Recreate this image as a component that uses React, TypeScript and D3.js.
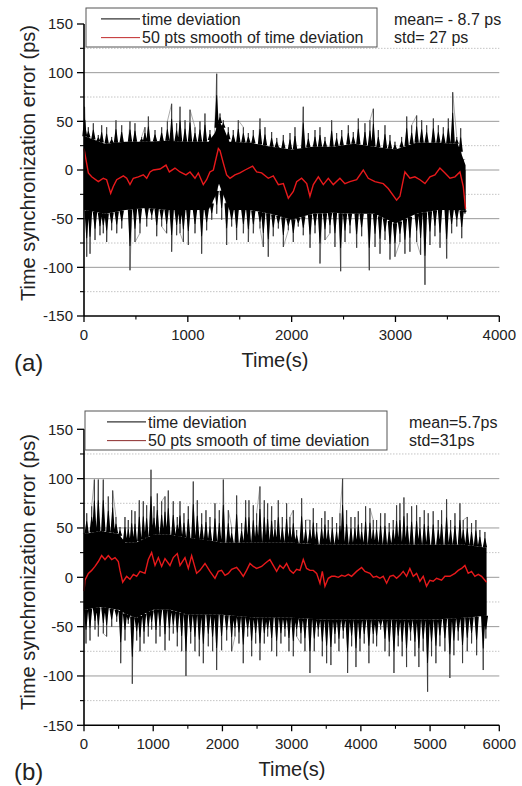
import React from "react";
import * as d3 from "d3";

const FONT = "'Liberation Sans', Arial, Helvetica, sans-serif";

// ---------- Panel (a) data ----------
const A_SMOOTH_T = [0, 42, 74, 138, 186, 218, 257, 282, 315, 379, 411, 443, 475, 523, 571, 604, 636, 668, 732, 790, 822, 876, 925, 982, 1021, 1069, 1101, 1149, 1181, 1213, 1246, 1294, 1310, 1342, 1374, 1406, 1454, 1502, 1551, 1624, 1663, 1711, 1775, 1823, 1872, 1920, 1968, 2016, 2048, 2096, 2145, 2176, 2209, 2257, 2305, 2353, 2401, 2465, 2513, 2561, 2626, 2690, 2738, 2802, 2882, 2930, 3011, 3043, 3091, 3139, 3187, 3236, 3284, 3332, 3380, 3428, 3477, 3525, 3573, 3621, 3653, 3675];
const A_SMOOTH_V = [22, -3, -7, -12, -8.5, -10, -24, -17, -10, -6, -8.5, -15, -8.5, -7, -5, -8.5, -2, 0, 1, 5, -2, 2, -2, -5, -2, -8.5, -3, -15, -10, -2, 0, 22, 20, 7, -5, -8.5, -5, -3, 0, 4, -2, -3, -8.5, -6, -15, -14, -29, -22, -12, -8.5, -14, -27, -15, -7, -15, -8.5, -15, -8.5, -14, -12, -10, 0, -8.5, -12, -14, -19, -31, -27, -2, -8.5, -7, -10, -14, -7, -5, 2, -3, -8.5, -7, -2, -17, -40];

const A_UP_T = [5, 10, 42, 90, 138, 170, 218, 266, 308, 363, 443, 491, 555, 587, 620, 684, 748, 803, 844, 892, 925, 973, 1021, 1069, 1117, 1165, 1213, 1278, 1310, 1342, 1390, 1438, 1486, 1535, 1583, 1631, 1695, 1743, 1807, 1856, 1872, 1920, 1984, 2032, 2112, 2161, 2225, 2273, 2321, 2385, 2433, 2482, 2546, 2594, 2642, 2706, 2754, 2787, 2835, 2899, 2947, 2995, 3059, 3108, 3156, 3204, 3252, 3300, 3365, 3413, 3461, 3509, 3551, 3590, 3628, 3654];
const A_UP_V = [65, 51, 44, 48, 36, 46, 44, 34, 51, 46, 50, 48, 34, 44, 55, 41, 44, 50, 68, 48, 65, 51, 62, 44, 50, 58, 41, 99, 58, 51, 44, 41, 51, 44, 38, 41, 53, 44, 39, 33, 24, 36, 38, 44, 65, 38, 41, 44, 34, 51, 38, 41, 46, 39, 53, 48, 51, 63, 41, 46, 36, 29, 34, 55, 46, 56, 51, 46, 53, 46, 44, 53, 80, 34, 43, 10];
const A_DN_T = [26, 58, 106, 154, 186, 218, 266, 315, 363, 443, 491, 539, 604, 652, 700, 748, 796, 844, 892, 925, 957, 1005, 1069, 1133, 1181, 1230, 1278, 1326, 1374, 1422, 1470, 1535, 1583, 1631, 1695, 1727, 1775, 1823, 1872, 1920, 1968, 2016, 2064, 2112, 2177, 2225, 2273, 2321, 2369, 2417, 2472, 2514, 2562, 2626, 2674, 2748, 2803, 2851, 2899, 2947, 2995, 3043, 3091, 3139, 3204, 3242, 3284, 3332, 3380, 3429, 3493, 3541, 3590, 3638, 3669];
const A_DN_V = [-89, -86, -72, -67, -65, -74, -62, -65, -60, -103, -74, -65, -58, -51, -68, -58, -65, -84, -67, -65, -74, -77, -65, -86, -62, -51, -45, -51, -77, -58, -72, -65, -74, -65, -60, -79, -89, -68, -60, -79, -62, -74, -58, -67, -80, -65, -96, -72, -65, -79, -104, -74, -65, -80, -68, -103, -79, -86, -72, -92, -89, -74, -86, -84, -74, -87, -118, -77, -68, -80, -91, -65, -58, -70, -45];

const A_CORE_T = [0, 200, 400, 600, 800, 1000, 1200, 1260, 1300, 1350, 1400, 1600, 1800, 2000, 2200, 2400, 2600, 2800, 3000, 3200, 3400, 3600, 3675];
const A_CORE_HI = [35, 27, 29, 29, 30, 29, 29, 38, 50, 42, 29, 28, 24, 21, 24, 24, 27, 24, 21, 28, 28, 27, 5];
const A_CORE_LO = [-41, -45, -41, -39, -41, -41, -41, -28, -14, -28, -41, -41, -45, -51, -45, -44, -45, -45, -55, -45, -41, -41, -42];

// ---------- Panel (b) data ----------
const B_SMOOTH_T = [0, 14, 63, 111, 159, 207, 255, 303, 351, 400, 448, 496, 520, 559, 616, 664, 713, 761, 809, 881, 929, 977, 1026, 1074, 1122, 1170, 1242, 1290, 1348, 1387, 1459, 1507, 1555, 1627, 1675, 1748, 1820, 1892, 1940, 1988, 2037, 2085, 2133, 2205, 2253, 2301, 2349, 2398, 2446, 2494, 2566, 2614, 2686, 2734, 2783, 2831, 2879, 2927, 2975, 3024, 3072, 3120, 3168, 3216, 3264, 3313, 3361, 3409, 3443, 3481, 3529, 3577, 3625, 3674, 3722, 3770, 3818, 3866, 3938, 4011, 4059, 4131, 4179, 4227, 4275, 4323, 4372, 4420, 4468, 4516, 4564, 4612, 4660, 4708, 4757, 4805, 4853, 4901, 4949, 4997, 5045, 5094, 5166, 5214, 5286, 5359, 5407, 5455, 5503, 5551, 5599, 5647, 5696, 5744, 5792, 5816];
const B_SMOOTH_V = [-14, -3, 4, 7, 11, 16, 22, 18, 22, 18, 20, 16, 7, -5, 1, -2, 3, 1, 6, 4, 18, 25, 12, 20, 11, 19, 12, 20, 24, 12, 20, 9, 22, 4, 7, 14, 6, -1, 6, 7, 2, 4, 8, 10, 6, 1, 7, 14, 11, 9, 11, 14, 18, 12, 6, 12, 9, 14, 7, 4, 8, 7, 18, 9, 7, 7, 4, -6, 6, -9, -1, 1, 1, 0, 2, 1, 3, 1, 6, 10, 6, 4, 0, 1, -1, 1, -6, 1, 2, -1, 2, 6, 1, 9, 1, 4, -4, 1, -9, -3, -4, -1, -3, 1, 1, 4, 7, 9, 12, 4, 6, 1, 3, 1, -3, -5];

const B_UP_T = [10, 39, 111, 150, 207, 279, 351, 414, 462, 520, 592, 640, 689, 737, 799, 857, 905, 968, 1011, 1059, 1122, 1170, 1218, 1290, 1348, 1387, 1444, 1507, 1579, 1637, 1700, 1762, 1820, 1892, 1955, 2013, 2085, 2133, 2205, 2277, 2335, 2383, 2446, 2494, 2542, 2605, 2653, 2711, 2759, 2807, 2865, 2927, 2975, 3024, 3072, 3144, 3202, 3264, 3313, 3361, 3433, 3481, 3529, 3587, 3649, 3698, 3736, 3794, 3857, 3914, 3963, 4011, 4068, 4131, 4179, 4227, 4285, 4348, 4410, 4468, 4516, 4564, 4622, 4670, 4733, 4805, 4853, 4916, 4973, 5045, 5118, 5166, 5238, 5296, 5359, 5431, 5479, 5537, 5599, 5662, 5719, 5792];
const B_UP_V = [45, 65, 72, 99, 99, 99, 82, 88, 61, 51, 61, 58, 68, 67, 78, 77, 73, 109, 72, 85, 77, 82, 88, 77, 61, 77, 65, 72, 97, 78, 65, 68, 61, 75, 68, 99, 68, 51, 83, 55, 78, 78, 73, 65, 92, 78, 75, 72, 58, 78, 61, 75, 61, 68, 48, 80, 58, 58, 70, 55, 60, 67, 58, 61, 55, 65, 100, 68, 61, 61, 67, 55, 72, 70, 58, 58, 65, 65, 55, 58, 73, 75, 81, 65, 72, 73, 61, 68, 65, 67, 58, 68, 79, 58, 65, 75, 58, 61, 55, 58, 48, 46];
const B_DN_T = [29, 87, 159, 207, 279, 327, 400, 472, 530, 592, 640, 698, 761, 809, 867, 929, 977, 1040, 1098, 1170, 1233, 1290, 1348, 1411, 1473, 1541, 1603, 1666, 1724, 1796, 1858, 1916, 1988, 2061, 2133, 2181, 2239, 2301, 2364, 2422, 2480, 2542, 2605, 2653, 2711, 2783, 2845, 2903, 2961, 3024, 3072, 3134, 3192, 3264, 3327, 3385, 3443, 3505, 3567, 3625, 3683, 3746, 3808, 3866, 3929, 3987, 4049, 4116, 4179, 4227, 4285, 4348, 4410, 4478, 4540, 4597, 4660, 4718, 4781, 4838, 4901, 4964, 5021, 5084, 5142, 5214, 5286, 5344, 5407, 5469, 5537, 5599, 5672, 5768, 5806];
const B_DN_V = [-67, -64, -53, -60, -57, -60, -50, -45, -87, -64, -47, -108, -64, -75, -67, -60, -53, -67, -60, -74, -64, -57, -70, -75, -100, -67, -75, -80, -87, -70, -75, -94, -74, -64, -75, -60, -67, -87, -60, -80, -67, -84, -67, -60, -75, -80, -67, -60, -75, -80, -60, -67, -75, -97, -75, -60, -80, -87, -89, -67, -75, -62, -97, -70, -91, -75, -67, -87, -67, -70, -53, -75, -80, -97, -70, -80, -91, -64, -80, -91, -75, -116, -80, -87, -70, -75, -102, -79, -64, -87, -75, -67, -79, -94, -62];

const B_CORE_T = [0, 250, 500, 600, 750, 1000, 1250, 1500, 1750, 2000, 2500, 3000, 3500, 4000, 4500, 5000, 5500, 5816];
const B_CORE_HI = [44, 47, 44, 35, 35, 43, 43, 40, 38, 35, 35, 35, 33, 33, 33, 33, 33, 30];
const B_CORE_LO = [-33, -30, -33, -37, -41, -33, -33, -38, -38, -38, -41, -41, -43, -43, -43, -43, -41, -39];

// ---------- axes & text ----------
const Y_MAJOR = [-150, -100, -50, 0, 50, 100, 150];
const Y_MINOR = [-125, -75, -25, 25, 75, 125];
const Y_GRID_SOLID = [-100, -50, 0, 50, 100];
const A_X_MAJOR = [0, 1000, 2000, 3000, 4000];
const A_X_MINOR = [500, 1500, 2500, 3500];
const B_X_MAJOR = [0, 1000, 2000, 3000, 4000, 5000, 6000];
const B_X_MINOR = [500, 1500, 2500, 3500, 4500, 5500];
const LEGEND_LABELS = ["time deviation", "50 pts smooth of time deviation"];
const Y_LABEL = "Time synchronization error (ps)";
const X_LABEL = "Time(s)";
const A_STATS = ["mean= - 8.7 ps", "std= 27 ps"];
const B_STATS = ["mean=5.7ps", "std=31ps"];

type PanelProps = {
  xMax: number;
  xMajor: number[];
  xMinor: number[];
  top: number;
  bottom: number;
  smoothT: number[];
  smoothV: number[];
  upT: number[];
  upV: number[];
  dnT: number[];
  dnV: number[];
  coreT: number[];
  coreHi: number[];
  coreLo: number[];
  legend: { x: number; y: number; w: number; h: number; lineX: number; textX: number; smoothColor: string };
  stats: string[];
  statsX: number;
  tag: string;
  xLabelX: number;
  yLabelY: number;
};

function Panel(p: PanelProps) {
  const x = d3.scaleLinear().domain([0, p.xMax]).range([84, 499.3]);
  const y = d3.scaleLinear().domain([-150, 150]).range([p.bottom, p.top]);
  const hiAt = d3.scaleLinear().domain(p.coreT).range(p.coreHi).clamp(true);
  const loAt = d3.scaleLinear().domain(p.coreT).range(p.coreLo).clamp(true);
  const core = d3
    .area<number>()
    .x((_, i) => x(p.coreT[i]))
    .y0((_, i) => y(p.coreLo[i]))
    .y1((_, i) => y(p.coreHi[i]));
  const smooth = d3
    .line<number>()
    .x((_, i) => x(p.smoothT[i]))
    .y((v) => y(v));
  const raw: [number, number][] = [
    ...p.upT.map((t, i) => [t, p.upV[i]] as [number, number]),
    ...p.dnT.map((t, i) => [t, p.dnV[i]] as [number, number]),
  ].sort((a, b) => a[0] - b[0]);
  const rawLine = d3
    .line<[number, number]>()
    .x((d) => x(d[0]))
    .y((d) => y(d[1]));
  const tooth = (t: number, v: number, edge: number) => {
    const cx = x(t);
    const ye = y(edge);
    const ym = y(edge + (v - edge) * 0.6);
    return `M${cx - 2.2},${ye}L${cx - 0.4},${ym}L${cx + 0.4},${ym}L${cx + 2.2},${ye}Z`;
  };
  const L = p.legend;
  const row1 = L.y + L.h * 0.28;
  const row2 = L.y + L.h * 0.76;
  return (
    <g>
      {/* grid */}
      {Y_GRID_SOLID.map((v) => (
        <line key={"g" + v} x1={84} x2={499.3} y1={y(v)} y2={y(v)} stroke="#9a9a9a" strokeWidth={1} />
      ))}
      {Y_MINOR.map((v) => (
        <line key={"d" + v} x1={84} x2={499.3} y1={y(v)} y2={y(v)} stroke="#c4c4c4" strokeWidth={1} strokeDasharray="1.5,1.5" />
      ))}
      {/* raw deviation series (thin excursions) */}
      <path d={rawLine(raw) || ""} fill="none" stroke="#888" strokeWidth={0.7} />
      {p.upT.map((t, i) => (
        <line key={"u" + i} x1={x(t)} x2={x(t)} y1={y(0)} y2={y(p.upV[i])} stroke="#3c3c3c" strokeWidth={1.1} />
      ))}
      {p.dnT.map((t, i) => (
        <line key={"n" + i} x1={x(t)} x2={x(t)} y1={y(0)} y2={y(p.dnV[i])} stroke="#3c3c3c" strokeWidth={1.1} />
      ))}
      {/* dense core with teeth */}
      <path d={core(p.coreT) || ""} fill="#000" />
      <path d={p.upT.map((t, i) => tooth(t, p.upV[i], hiAt(t))).join("")} fill="#000" />
      <path d={p.dnT.map((t, i) => tooth(t, p.dnV[i], loAt(t))).join("")} fill="#000" />
      {/* smooth */}
      <path d={smooth(p.smoothV) || ""} fill="none" stroke="#e8191b" strokeWidth={1.4} />
      {/* axes */}
      <line x1={84} x2={84} y1={p.top} y2={p.bottom} stroke="#000" strokeWidth={1.6} />
      <line x1={84} x2={499.3} y1={p.bottom} y2={p.bottom} stroke="#000" strokeWidth={1.6} />
      {Y_MAJOR.map((v) => (
        <g key={"ym" + v}>
          <line x1={77} x2={84} y1={y(v)} y2={y(v)} stroke="#000" strokeWidth={1.3} />
          <text x={73} y={y(v) + 5.2} textAnchor="end" fontSize={15} fontFamily={FONT} fill="#222">
            {v}
          </text>
        </g>
      ))}
      {Y_MINOR.map((v) => (
        <line key={"yn" + v} x1={80} x2={84} y1={y(v)} y2={y(v)} stroke="#000" strokeWidth={1.1} />
      ))}
      {p.xMajor.map((v) => (
        <g key={"xm" + v}>
          <line x1={x(v)} x2={x(v)} y1={p.bottom} y2={p.bottom + 6} stroke="#000" strokeWidth={1.3} />
          <text x={x(v)} y={p.bottom + 24} textAnchor="middle" fontSize={15} fontFamily={FONT} fill="#222">
            {v}
          </text>
        </g>
      ))}
      {p.xMinor.map((v) => (
        <line key={"xn" + v} x1={x(v)} x2={x(v)} y1={p.bottom} y2={p.bottom + 3.5} stroke="#000" strokeWidth={1.1} />
      ))}
      {/* labels */}
      <text x={p.xLabelX} y={p.bottom + 51} textAnchor="middle" fontSize={20} fontFamily={FONT} fill="#222">
        {X_LABEL}
      </text>
      <text
        transform={`translate(35,${p.yLabelY}) rotate(-90)`}
        textAnchor="middle"
        fontSize={20}
        fontFamily={FONT}
        fill="#222"
      >
        {Y_LABEL}
      </text>
      <text x={14} y={p.bottom + 55} fontSize={24} fontFamily={FONT} fill="#222">
        {p.tag}
      </text>
      {/* legend */}
      <rect x={L.x} y={L.y} width={L.w} height={L.h} fill="#fff" stroke="#555" strokeWidth={1} />
      <line x1={L.lineX} x2={L.lineX + 39} y1={row1} y2={row1} stroke="#000" strokeWidth={1} />
      <line x1={L.lineX} x2={L.lineX + 39} y1={row2} y2={row2} stroke={L.smoothColor} strokeWidth={1} />
      <text x={L.textX} y={row1 + 5.6} fontSize={16} fontFamily={FONT} fill="#222">
        {LEGEND_LABELS[0]}
      </text>
      <text x={L.textX} y={row2 + 5.6} fontSize={16} fontFamily={FONT} fill="#222">
        {LEGEND_LABELS[1]}
      </text>
      <text x={p.statsX} y={row1 + 5.6} fontSize={16} fontFamily={FONT} fill="#222">
        {p.stats[0]}
      </text>
      <text x={p.statsX} y={row2 + 5.6} fontSize={16} fontFamily={FONT} fill="#222">
        {p.stats[1]}
      </text>
    </g>
  );
}

export default function App() {
  return (
    <svg
      width={522}
      height={786}
      style={{ position: "absolute", left: 0, top: 0, background: "#fff" }}
    >
      <rect x={0} y={0} width={522} height={786} fill="#fff" />
      <Panel
        xMax={4000}
        xMajor={A_X_MAJOR}
        xMinor={A_X_MINOR}
        top={24}
        bottom={316}
        smoothT={A_SMOOTH_T}
        smoothV={A_SMOOTH_V}
        upT={A_UP_T}
        upV={A_UP_V}
        dnT={A_DN_T}
        dnV={A_DN_V}
        coreT={A_CORE_T}
        coreHi={A_CORE_HI}
        coreLo={A_CORE_LO}
        legend={{ x: 86, y: 8, w: 291, h: 39, lineX: 101, textX: 142, smoothColor: "#c0282a" }}
        stats={A_STATS}
        statsX={394}
        tag="(a)"
        xLabelX={275}
        yLabelY={163}
      />
      <Panel
        xMax={6000}
        xMajor={B_X_MAJOR}
        xMinor={B_X_MINOR}
        top={429.3}
        bottom={725.3}
        smoothT={B_SMOOTH_T}
        smoothV={B_SMOOTH_V}
        upT={B_UP_T}
        upV={B_UP_V}
        dnT={B_DN_T}
        dnV={B_DN_V}
        coreT={B_CORE_T}
        coreHi={B_CORE_HI}
        coreLo={B_CORE_LO}
        legend={{ x: 85, y: 411, w: 302, h: 39, lineX: 107, textX: 148, smoothColor: "#8b2a2a" }}
        stats={B_STATS}
        statsX={409}
        tag="(b)"
        xLabelX={292}
        yLabelY={572}
      />
    </svg>
  );
}
